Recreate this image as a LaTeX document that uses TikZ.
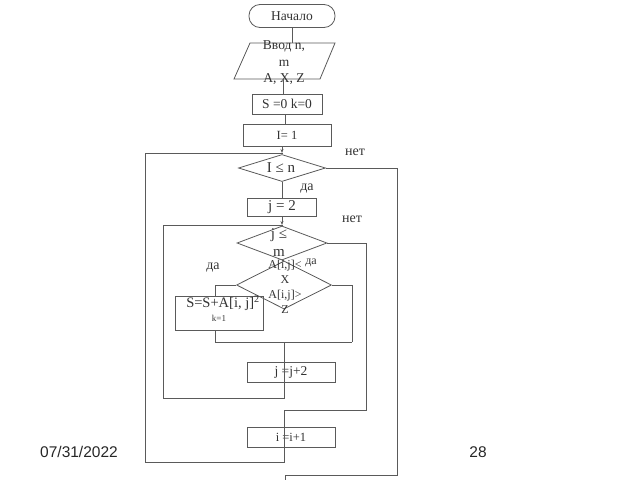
\documentclass[tikz,border=0pt]{standalone}
\usepackage{fontspec}
\setmainfont{Liberation Serif}
\newfontfamily\footfont{Liberation Sans}
\usetikzlibrary{shapes.geometric,arrows.meta}
\definecolor{lc}{HTML}{5A5A5A}
\definecolor{tc}{HTML}{333333}
\begin{document}
\begin{tikzpicture}[x=1pt,y=-1pt,line width=0.8pt,
  box/.style={draw=lc,rectangle,inner sep=0pt,text=tc,font=\fontsize{13.5}{15}\selectfont},
  term/.style={box,rounded corners=11pt},
  dia/.style={draw=lc,diamond,inner sep=0pt},
  txt/.style={inner sep=0pt,text=tc,align=center},
  ln/.style={draw=lc},
  lab/.style={inner sep=0pt,text=tc,font=\fontsize{14}{16}\selectfont},
  tip/.style={-{Stealth[length=4pt,width=3pt]}}]
\useasboundingbox (0,0) rectangle (640,480);

% nodes
\node[term,minimum width=86,minimum height=23] (start) at (292,16) {Начало};
\coordinate (p1) at (250,43); \coordinate (p2) at (335,43);
\coordinate (p3) at (320,79); \coordinate (p4) at (234,79);
\draw[ln] (p1)--(p2)--(p3)--(p4)--cycle;
\node[txt,font=\fontsize{13.5}{16.5}\selectfont] (inp) at (284,63) {Ввод n,\\m\\A, X, Z};
\node[box,minimum width=70,minimum height=20] (s0) at (287,104) {S =0 k=0};
\node[box,minimum width=88,minimum height=22,font=\fontsize{12.5}{14}\selectfont] (i1) at (287,135) {I= 1};
\node[dia,minimum width=87,minimum height=27] (d1) at (282,168) {};
\node[txt,font=\fontsize{15}{17}\selectfont] (d1t) at (281,168) {I ≤ n};
\node[box,minimum width=69,minimum height=18,font=\fontsize{15}{17}\selectfont] (j2) at (282,207) {j = 2};
\node[dia,minimum width=90,minimum height=34] (d2) at (282,243) {};
\node[txt,font=\fontsize{15}{18}\selectfont] (d2t) at (279,243) {j ≤\\m};
\node[dia,minimum width=95,minimum height=48] (d3) at (284,285) {};
\node[txt,font=\fontsize{12}{15}\selectfont] (d3t) at (285,286.5) {A[i,j]<\\X\\A[i,j]>\\Z};
\node[box,minimum width=88,minimum height=34] (sb) at (219,313) {};
\node[txt,font=\fontsize{14.5}{15}\selectfont] (sbt1) at (223,303) {S=S+A[i, j]\textsuperscript{2}};
\node[txt,font=\fontsize{9}{10}\selectfont] (sbt2) at (219,318) {k=1};
\node[box,minimum width=88,minimum height=20] (jj) at (291,372) {j =j+2};
\node[box,minimum width=88,minimum height=20,font=\fontsize{12.5}{14}\selectfont] (ii) at (291,437) {i =i+1};

% labels
\node[lab] (l1) at (355,152) {нет};
\node[lab] (l2) at (307,189) {да};
\node[lab] (l3) at (352,219) {нет};
\node[lab,font=\fontsize{12}{14}\selectfont] (l4) at (311,263) {да};
\node[lab] (l5) at (213,268) {да};
\node[txt,font=\footfont\fontsize{15.5}{18}\selectfont,text=black!85] (date) at (79,452) {07/31/2022};
\node[txt,font=\footfont\fontsize{15.5}{18}\selectfont,text=black!85] (num) at (478,452) {28};

% coordinates
\coordinate (pb) at (283,79);
\coordinate (j1) at (282,153);
\coordinate (j2b) at (282,225);
\coordinate (m1) at (352,342);
\coordinate (m2) at (284,342);
\coordinate (m3) at (284,398);
\coordinate (lp) at (163,398);
\coordinate (n1) at (284,410);
\coordinate (n2) at (366,410);
\coordinate (o1) at (284,462);
\coordinate (o2) at (145,462);
\coordinate (e1) at (397,475);
\coordinate (e2) at (285,475);
\coordinate (e3) at (285,480);

% connectors
\draw[ln] (start.south) -- (start.south |- p1);
\draw[ln] (pb) -- (pb |- s0.north);
\draw[ln] ([xshift=-2]s0.south) -- ([xshift=-2]s0.south |- i1.north);
\draw[ln,tip] ([xshift=-5]i1.south) -- (j1);
\draw[ln] (j1) -- (d1.north);
\draw[ln] (d1.south) -- (j2.north);
\draw[ln,tip] (j2.south) -- (j2b);
\draw[ln] (j2b) -- (d2.north);
\draw[ln] (d2.south) -- (d3.north);
\draw[ln] (d3.west) -| ([xshift=-4]sb.north);
\draw[ln] (d3.east) -| (m1);
\draw[ln] ([xshift=-4]sb.south) |- (m1);
\draw[ln] (m2) -- (m3) -- (lp) |- (j2b);
\draw[ln] (d2.east) -| (n2) -- (n1) -- (o1) -- (o2) |- (j1);
\draw[ln] (d1.east) -| (e1) -- (e2) -- (e3);
\end{tikzpicture}
\end{document}
